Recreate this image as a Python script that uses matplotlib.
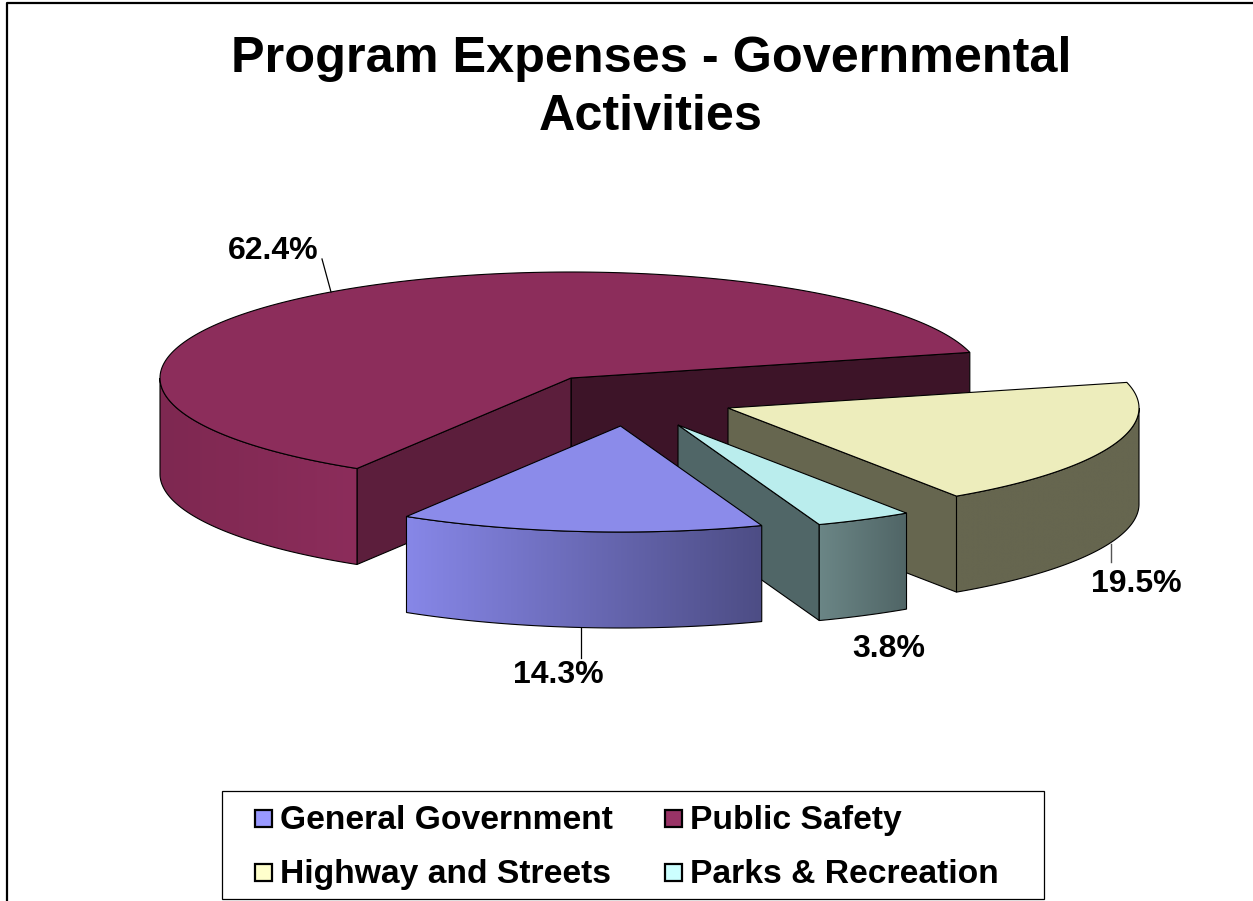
import numpy as np
import matplotlib
matplotlib.use("Agg")
import matplotlib.pyplot as plt
from matplotlib.patches import Polygon, Rectangle

plt.rcParams['font.family'] = ['Liberation Sans', 'DejaVu Sans']

# chart data, clockwise from the first slice
labels = ["General Government", "Public Safety", "Highway and Streets", "Parks & Recreation"]
values = [14.3, 62.4, 19.5, 3.8]
value_labels = ["14.3%", "62.4%", "19.5%", "3.8%"]

# colours
top_colors = ["#8b8bea", "#8c2d5b", "#ededbc", "#baeded"]
rim_left = ["#8787e8", "#7e2851", "#66664f", "#6b8686"]
rim_right = ["#4d4d85", "#8c2d5b", "#66664f", "#506566"]
end_wall_colors = [None, "#3d1428", "#66664f", "#506667"]
start_wall_color = "#5c1e3c"
legend_colors = ["#9999ff", "#993366", "#ffffcc", "#ccffff"]

# pie geometry in pixels
center = (571, 378)
rx = 411
ry = 106
depth = 96
start_angle = -69.9
explode = [(49.5, 48), (0, 0), (157, 30), (107, 47)]

fig = plt.figure(figsize=(12.53, 9.01), dpi=100)
ax = fig.add_axes([0, 0, 1, 1])
ax.set_xlim(0, 1253)
ax.set_ylim(901, 0)
ax.axis("off")

# outer frame, only left and top are in the picture
ax.plot([7, 7, 1253], [901, 3, 3], color="black", lw=1.6, zorder=1)


def rim_xy(cx, cy, a):
    return cx + rx*np.cos(np.radians(a)), cy - ry*np.sin(np.radians(a))


def add_wall(p0, p1, color, z):
    pts = [p0, p1, (p1[0], p1[1]+depth), (p0[0], p0[1]+depth)]
    ax.add_patch(Polygon(pts, closed=True, facecolor=color, edgecolor="black", lw=0.8, zorder=z))


def add_rim(cx, cy, a0, a1, c_left, c_right, z):
    # a0 < a1, both in the front half of the ellipse
    t = np.linspace(a0, a1, 120)
    x, y = rim_xy(cx, cy, t)
    pts = np.vstack([np.c_[x, y], np.c_[x[::-1], y[::-1]+depth]])
    poly = Polygon(pts, closed=True, facecolor="none", edgecolor="black", lw=0.8, zorder=z+0.1)
    ax.add_patch(poly)
    cl = np.array(matplotlib.colors.to_rgb(c_left))
    cr = np.array(matplotlib.colors.to_rgb(c_right))
    f = np.linspace(0, 1, 256)[None, :, None]
    grad = cl[None, None, :]*(1-f) + cr[None, None, :]*f
    im = ax.imshow(grad, extent=[x.min(), x.max(), y.max()+depth, y.min()],
                   aspect="auto", zorder=z, interpolation="bilinear")
    clip = Polygon(pts, closed=True, transform=ax.transData)
    im.set_clip_path(clip)


# angles of every slice from the values
sweeps = np.array(values)/sum(values)*360.0
starts = start_angle - np.cumsum(np.r_[0, sweeps[:-1]])
starts = (starts + 180) % 360 - 180

# back to front: public safety, highway, parks, general
for z, i in enumerate([1, 2, 3, 0]):
    z = 2 + z*2
    a_start = starts[i]
    a_end = a_start - sweeps[i]
    cx = center[0] + explode[i][0]
    cy = center[1] + explode[i][1]

    t = np.linspace(a_start, a_end, 200)
    x, y = rim_xy(cx, cy, t)

    # only walls that face the viewer
    if np.cos(np.radians(a_end)) > 0:
        add_wall((cx, cy), rim_xy(cx, cy, a_end), end_wall_colors[i], z)
    if np.cos(np.radians(a_start)) < 0:
        add_wall((cx, cy), rim_xy(cx, cy, a_start), start_wall_color, z)
    add_rim(cx, cy, max(a_end, -180), min(a_start, 0), rim_left[i], rim_right[i], z)

    pts = np.vstack([[cx, cy], np.c_[x, y]])
    ax.add_patch(Polygon(pts, closed=True, facecolor=top_colors[i], edgecolor="black",
                         lw=0.8, zorder=z+0.5))

# title
ax.text(651, 88, "Program Expenses - Governmental\nActivities", ha="center", va="center",
        fontsize=36.3, fontweight="bold", linespacing=1.345, zorder=20)

# data labels and leader lines
ax.text(273, 259, value_labels[1], ha="center", va="baseline", fontsize=23, fontweight="bold", zorder=20)
ax.text(558.5, 683, value_labels[0], ha="center", va="baseline", fontsize=23, fontweight="bold", zorder=20)
ax.text(1136.5, 592, value_labels[2], ha="center", va="baseline", fontsize=23, fontweight="bold", zorder=20)
ax.text(888.5, 657, value_labels[3], ha="center", va="baseline", fontsize=23, fontweight="bold", zorder=20)
ax.plot([322, 331], [259, 292], color="black", lw=0.9, zorder=20)
ax.plot([580.5, 580.5], [628, 658], color="black", lw=0.9, zorder=20)
ax.plot([1111, 1111], [544, 562], color="#555555", lw=1.0, zorder=20)

# legend
ax.add_patch(Rectangle((222, 791), 822, 108, facecolor="white", edgecolor="black", lw=0.9, zorder=20))
leg_x = [255, 665]
leg_y = [818, 872]
for i, lab in enumerate(labels):
    lx = leg_x[i % 2]
    ly = leg_y[i//2]
    ax.add_patch(Rectangle((lx, ly-8), 17, 17, facecolor=legend_colors[i], edgecolor="black",
                           lw=1.6, zorder=21))
    ax.text(lx+25, ly+11, lab, ha="left", va="baseline", fontsize=24.2, fontweight="bold", zorder=21)

ax.set_xlim(0, 1253)
ax.set_ylim(901, 0)
fig.savefig("out.png", dpi=100)
